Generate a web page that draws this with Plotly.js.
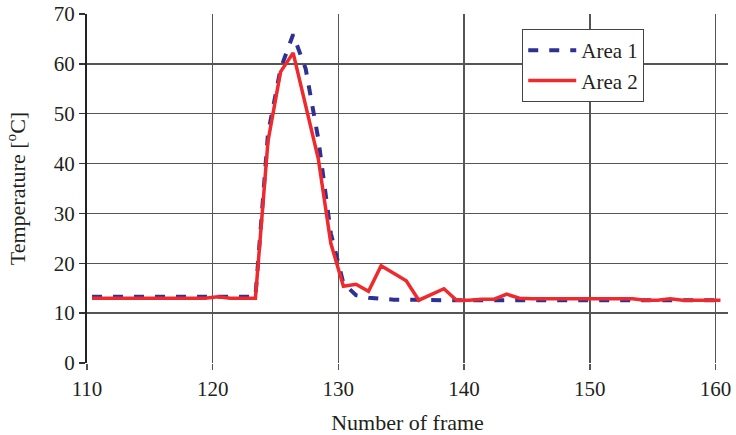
<!DOCTYPE html>
<html>
<head>
<meta charset="utf-8">
<script src="https://cdn.plot.ly/plotly-3.0.1.min.js"></script>
<style>html,body{margin:0;padding:0;background:#fff;}#chart{width:736px;height:435px;}</style>
</head>
<body>
<div id="chart"></div>
<script>
const frames = [110.4,111.4,112.4,113.4,114.4,115.4,116.4,117.4,118.4,119.4,
  120.4,121.4,122.4,123.4,124.4,125.4,126.4,127.4,128.4,129.4,
  130.4,131.4,132.4,133.4,134.4,135.4,136.4,137.4,138.4,139.4,
  140.4,141.4,142.4,143.4,144.4,145.4,146.4,147.4,148.4,149.4,
  150.4,151.4,152.4,153.4,154.4,155.4,156.4,157.4,158.4,159.4,160.4];
const area1 = [13.3,13.3,13.3,13.3,13.3,13.3,13.3,13.3,13.3,13.3,
  13.4,13.3,13.3,13.3,46,59,65.9,59,45,26,
  16,13.6,13.1,12.8,12.7,12.7,12.6,12.6,12.6,12.6,
  12.6,12.7,12.7,12.8,12.8,12.8,12.8,12.8,12.8,12.8,
  12.8,12.8,12.8,12.8,12.6,12.6,12.8,12.7,12.6,12.6,12.6];
const area2 = [13.0,13.0,13.0,13.0,13.0,13.0,13.0,13.0,13.0,13.0,
  13.3,13.0,13.0,13.0,44.5,58.4,62.2,51.5,41,24,
  15.4,15.8,14.4,19.5,17.9,16.5,12.6,13.8,14.9,12.6,
  12.6,12.8,12.8,13.8,13.0,12.9,12.9,12.9,12.9,12.9,
  12.9,12.9,12.9,12.9,12.6,12.6,12.9,12.6,12.6,12.6,12.6];
const xTicks = [110,120,130,140,150,160];
const yTicks = [0,10,20,30,40,50,60,70];
const seriesNames = ['Area 1','Area 2'];

const font = 'Liberation Serif, DejaVu Serif, serif';
const traces = [
  {x: frames, y: area1, name: seriesNames[0], type: 'scatter', mode: 'lines',
   line: {color: '#2e3192', width: 4, dash: '10px,11px'}},
  {x: frames, y: area2, name: seriesNames[1], type: 'scatter', mode: 'lines',
   line: {color: '#ee2a2e', width: 3.5}}
];
const layout = {
  width: 736, height: 435,
  margin: {l: 87, r: 8, t: 14, b: 72},
  paper_bgcolor: '#fff', plot_bgcolor: '#fff',
  font: {family: font, color: '#231f20', size: 21},
  showlegend: true,
  legend: {x: 0.679, y: 0.957, xanchor: 'left', yanchor: 'top',
    bordercolor: '#444', borderwidth: 1, bgcolor: '#fff',
    font: {family: font, size: 21, color: '#231f20'}, itemwidth: 48, tracegroupgap: 0},
  xaxis: {range: [110, 161], tickvals: xTicks, ticktext: xTicks.map(String),
    showgrid: true, gridcolor: '#555', gridwidth: 1.5,
    ticks: 'outside', ticklen: 6, tickcolor: '#555', tickwidth: 1.5,
    ticklabelstandoff: 1,
    showline: false, zeroline: false,
    tickfont: {family: font, size: 21},
    title: {text: 'Number of frame', font: {family: font, size: 22}, standoff: 18}},
  yaxis: {range: [0, 70], tickvals: yTicks, ticktext: yTicks.map(String),
    showgrid: true, gridcolor: '#555', gridwidth: 1.5,
    ticks: 'outside', ticklen: 6, tickcolor: '#333', tickwidth: 1.5,
    showline: true, linecolor: '#222', linewidth: 2, zeroline: false,
    tickfont: {family: font, size: 21},
    title: {text: 'Temperature [<sup>o</sup>C]', font: {family: font, size: 22}, standoff: 22}}
};
Plotly.newPlot('chart', traces, layout, {displayModeBar: false, staticPlot: true});
</script>
</body>
</html>
